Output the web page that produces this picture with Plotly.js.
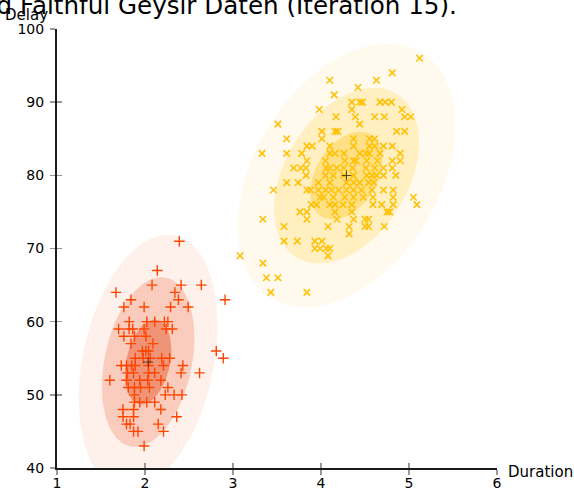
<!DOCTYPE html>
<html>
<head>
<meta charset="utf-8">
<script src="https://cdn.plot.ly/plotly-3.0.1.min.js"></script>
<style>
  html, body { margin: 0; padding: 0; background: #fff; }
  #chart { width: 574px; height: 488px; }
</style>
</head>
<body>
<div id="chart"></div>
<script>
// ---- data ----
const titleText = "Old Faithful Geysir Daten (Iteration 15).";
const xAxisLabel = "Duration";
const yAxisLabel = "Delay";
const xTickVals = [1, 2, 3, 4, 5, 6];
const yTickVals = [40, 50, 60, 70, 80, 90, 100];

// cluster 1 (short eruptions, red "+")
const cluster1Duration = [
  2.39, 2.14, 2.08, 2.41, 2.64, 1.67, 2.34, 1.84, 2.38, 2.91,
  1.76, 1.99, 2.29, 2.49, 1.82, 2.02, 2.11, 2.22, 2.26,
  1.70, 1.82, 1.86, 1.99, 2.24, 2.31, 1.76, 1.88, 2.01, 1.84, 2.09,
  1.97, 2.01, 2.04, 2.81, 1.89, 1.98, 2.06, 2.19, 2.28, 2.89,
  1.73, 1.79, 1.85, 1.89, 2.04, 2.21, 2.43,
  1.80, 1.87, 2.04, 2.11, 2.41, 2.62,
  1.60, 1.79, 1.94, 2.03, 2.18,
  1.81, 1.88, 1.95, 2.05, 2.26,
  1.88, 2.23, 2.33, 2.42,
  1.88, 1.94, 2.02, 2.11,
  1.75, 1.87, 2.18, 1.75, 1.87, 2.36, 1.79, 1.83, 2.15,
  1.87, 1.92, 2.21, 1.99
];
const cluster1Delay = [
  71, 67, 65, 65, 65, 64, 64, 63, 63, 63,
  62, 62, 62, 62, 60, 60, 60, 60, 60,
  59, 59, 59, 59, 59, 59, 58, 58, 58, 57, 57,
  56, 56, 56, 56, 55, 55, 55, 55, 55, 55,
  54, 54, 54, 54, 54, 54, 54,
  53, 53, 53, 53, 53, 53,
  52, 52, 52, 52, 52,
  51, 51, 51, 51, 51,
  50, 50, 50, 50,
  49, 49, 49, 49,
  48, 48, 48, 47, 47, 47, 46, 46, 46,
  45, 45, 45, 43
];

// cluster 2 (long eruptions, yellow "x")
const cluster2Duration = [
  5.12, 4.81, 4.10, 4.63, 4.42, 4.15,
  4.35, 4.44, 4.47, 4.67, 4.73, 4.80,
  3.98, 4.35, 4.92,
  4.17, 4.39, 4.61, 4.72, 4.95, 5.02,
  3.51, 4.44,
  4.01, 4.16, 4.19, 4.86, 4.95,
  3.61, 4.01, 4.37, 4.55, 4.61,
  3.84, 3.90, 4.10, 4.37, 4.55, 4.61, 4.71, 4.81,
  3.33, 3.61, 3.78, 4.10, 4.16, 4.26, 4.44, 4.51, 4.55, 4.67, 4.90,
  3.84, 4.05, 4.27, 4.37, 4.40, 4.52, 4.64, 4.81, 4.90,
  3.69, 3.77, 3.83, 4.06, 4.10, 4.18, 4.26, 4.36, 4.51, 4.61, 4.71, 4.81,
  3.83, 4.05, 4.14, 4.26, 4.37, 4.52, 4.58, 4.63, 4.71, 4.85,
  3.61, 3.74, 3.97, 4.10, 4.29, 4.37, 4.44, 4.54, 4.60,
  3.46, 3.84, 3.88, 3.97, 4.05, 4.12, 4.20, 4.29, 4.37, 4.46, 4.58, 4.71, 4.82,
  3.99, 4.03, 4.14, 4.27, 4.37, 4.48, 4.59, 4.82, 5.05,
  3.89, 3.95, 4.10, 4.16, 4.25, 4.35, 4.59, 4.69, 4.82, 5.09,
  3.76, 3.84, 4.16, 4.35, 4.75, 4.78,
  3.34, 3.84, 4.18, 4.37, 4.50, 4.54,
  3.58, 4.08, 4.32, 4.50, 4.54, 4.72,
  4.32,
  3.58, 3.73, 3.93, 4.01,
  3.93, 3.99, 4.06, 4.10,
  3.08, 4.08, 3.34, 3.38, 3.51, 3.43, 3.84
];
const cluster2Delay = [
  96, 94, 93, 93, 92, 91,
  90, 90, 90, 90, 90, 90,
  89, 89, 89,
  88, 88, 88, 88, 88, 88,
  87, 87,
  86, 86, 86, 86, 86,
  85, 85, 85, 85, 85,
  84, 84, 84, 84, 84, 84, 84, 84,
  83, 83, 83, 83, 83, 83, 83, 83, 83, 83, 83,
  82, 82, 82, 82, 82, 82, 82, 82, 82,
  81, 81, 81, 81, 81, 81, 81, 81, 81, 81, 81, 81,
  80, 80, 80, 80, 80, 80, 80, 80, 80, 80,
  79, 79, 79, 79, 79, 79, 79, 79, 79,
  78, 78, 78, 78, 78, 78, 78, 78, 78, 78, 78, 78, 78,
  77, 77, 77, 77, 77, 77, 77, 77, 77,
  76, 76, 76, 76, 76, 76, 76, 76, 76, 76,
  75, 75, 75, 75, 75, 75,
  74, 74, 74, 74, 74, 74,
  73, 73, 73, 73, 73, 73,
  72,
  71, 71, 71, 71,
  70, 70, 70, 70,
  69, 69, 68, 66, 66, 64, 64
];

// Gaussian mixture components (mean and covariance [var_x, cov_xy, var_y])
const cluster1Mean = [2.036, 54.48];
const cluster1Cov = [0.0692, 0.435, 33.7];
const cluster2Mean = [4.29, 79.97];
const cluster2Cov = [0.170, 0.941, 36.05];
const sigmaLevels = [3, 2, 1];

// ---- styling ----
const red = "rgb(255,69,0)";
const yellow = "rgb(255,193,7)";
const redFills = ["rgb(254,241,236)", "rgb(249,204,189)", "rgb(240,148,120)"];
const yellowFills = ["rgb(255,250,237)", "rgb(255,239,193)", "rgb(255,224,132)"];

function ellipse(mean, cov, k) {
  const a = cov[0], b = cov[1], c = cov[2];
  const l00 = Math.sqrt(a), l10 = b / l00, l11 = Math.sqrt(c - l10 * l10);
  const xs = [], ys = [];
  for (let i = 0; i <= 120; i++) {
    const t = 2 * Math.PI * i / 120;
    const u = Math.cos(t), v = Math.sin(t);
    xs.push(mean[0] + k * l00 * u);
    ys.push(mean[1] + k * (l10 * u + l11 * v));
  }
  return { x: xs, y: ys };
}

const traces = [];
function addEllipses(mean, cov, fills) {
  sigmaLevels.forEach((k, i) => {
    const e = ellipse(mean, cov, k);
    traces.push({
      type: "scatter", mode: "lines", x: e.x, y: e.y,
      fill: "toself", fillcolor: fills[i],
      line: { width: 0, color: fills[i] }, hoverinfo: "skip", showlegend: false
    });
  });
}
addEllipses(cluster1Mean, cluster1Cov, redFills);
addEllipses(cluster2Mean, cluster2Cov, yellowFills);

traces.push({
  type: "scatter", mode: "markers", x: cluster1Duration, y: cluster1Delay,
  marker: { symbol: "cross-thin", size: 7.5, color: red, line: { color: red, width: 1.4 } },
  showlegend: false
});
traces.push({
  type: "scatter", mode: "markers", x: cluster2Duration, y: cluster2Delay,
  marker: { symbol: "x-thin", size: 6.5, color: yellow, line: { color: yellow, width: 1.6 } },
  showlegend: false
});
traces.push({
  type: "scatter", mode: "markers",
  x: [cluster1Mean[0], cluster2Mean[0]], y: [cluster1Mean[1], cluster2Mean[1]],
  marker: { symbol: "cross-thin", size: 7, color: "rgba(60,40,0,0.85)", line: { color: "rgba(60,40,0,0.85)", width: 1 } },
  showlegend: false
});
// empty trace to materialise the overlay axes carrying the inner half of ticks
traces.push({ type: "scatter", mode: "markers", x: [], y: [], xaxis: "x2", yaxis: "y2", showlegend: false });

const font = { family: "DejaVu Sans, sans-serif", color: "#000" };
const layout = {
  width: 574, height: 488,
  margin: { l: 57, r: 77, t: 29, b: 20, pad: 0 },
  paper_bgcolor: "#fff", plot_bgcolor: "#fff",
  showlegend: false,
  font: Object.assign({ size: 14 }, font),
  title: {
    text: titleText, font: Object.assign({ size: 24.6 }, font),
    xref: "container", x: 0.796, xanchor: "right",
    yref: "container", y: 0.988, yanchor: "middle"
  },
  xaxis: {
    range: [1, 6], tickvals: xTickVals, ticktext: xTickVals.map(String),
    showgrid: false, zeroline: false, showline: true, linecolor: "#1a1a1a", linewidth: 2,
    ticks: "outside", ticklen: 5, tickwidth: 1.5, tickcolor: "#999",
    ticklabelstandoff: -4,
    tickfont: Object.assign({ size: 14 }, font), fixedrange: true
  },
  yaxis: {
    range: [40, 100], tickvals: yTickVals, ticktext: yTickVals.map(String),
    showgrid: false, zeroline: false, showline: true, linecolor: "#1a1a1a", linewidth: 2,
    ticks: "outside", ticklen: 5, tickwidth: 1.5, tickcolor: "#999",
    ticklabelstandoff: 3,
    tickfont: Object.assign({ size: 14 }, font), fixedrange: true
  },
  xaxis2: {
    overlaying: "x", anchor: "y", range: [1, 6], tickvals: xTickVals,
    showticklabels: false, showgrid: false, zeroline: false, showline: false,
    ticks: "inside", ticklen: 5, tickwidth: 1.5, tickcolor: "#999"
  },
  yaxis2: {
    overlaying: "y", anchor: "x", range: [40, 100], tickvals: yTickVals,
    showticklabels: false, showgrid: false, zeroline: false, showline: false,
    ticks: "inside", ticklen: 5, tickwidth: 1.5, tickcolor: "#999"
  },
  annotations: [
    {
      text: yAxisLabel, xref: "paper", yref: "paper", x: 0, y: 1,
      xanchor: "center", yanchor: "middle", xshift: -31, yshift: 14,
      showarrow: false, font: Object.assign({ size: 15 }, font)
    },
    {
      text: xAxisLabel, xref: "paper", yref: "paper", x: 1, y: 0,
      xanchor: "left", yanchor: "middle", xshift: 9, yshift: -4,
      showarrow: false, font: Object.assign({ size: 15 }, font)
    }
  ]
};

Plotly.newPlot("chart", traces, layout, { displayModeBar: false, staticPlot: true });
</script>
</body>
</html>
